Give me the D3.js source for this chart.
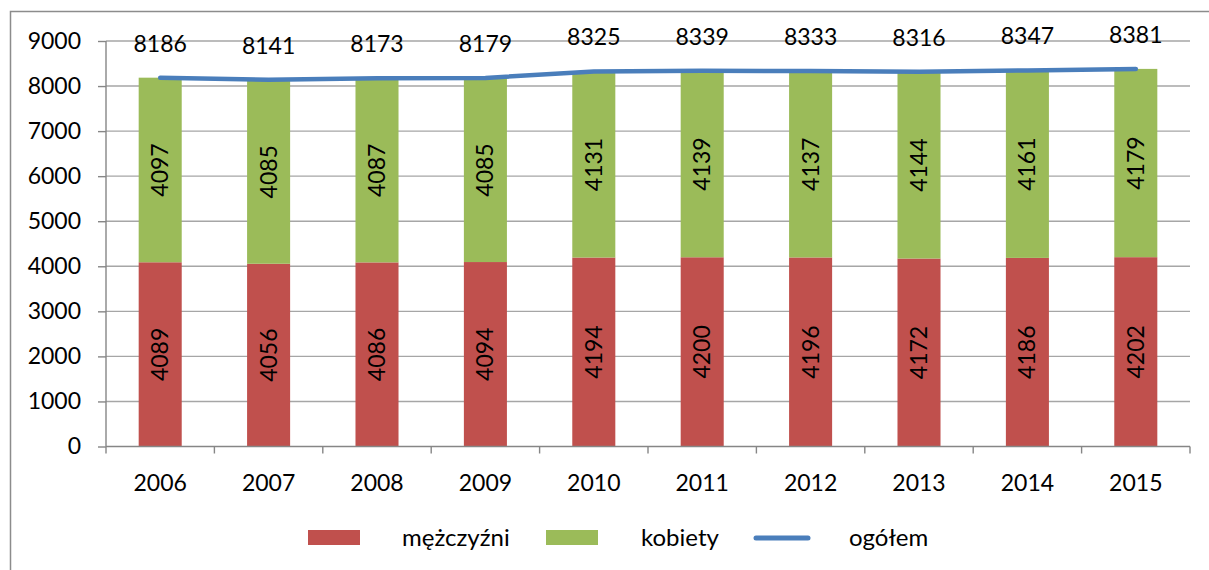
<!DOCTYPE html>
<html><head><meta charset="utf-8">
<script src="https://cdn.jsdelivr.net/npm/d3@7"></script>
<style>
html,body{margin:0;padding:0;background:#fff;}
svg{display:block;}
text{font-family:Lato,"Open Sans",sans-serif;fill:#000;}
</style></head>
<body>
<svg id="chart" width="1209" height="570"></svg>
<script>
const years = ["2006","2007","2008","2009","2010","2011","2012","2013","2014","2015"];
const men = [4089,4056,4086,4094,4194,4200,4196,4172,4186,4202];
const women = [4097,4085,4087,4085,4131,4139,4137,4144,4161,4179];
const total = [8186,8141,8173,8179,8325,8339,8333,8316,8347,8381];
const yTicks = [0,1000,2000,3000,4000,5000,6000,7000,8000,9000];
const seriesNames = ["mężczyźni","kobiety","ogółem"];

const colors = {men:"#c0504d", women:"#9bbb59", total:"#4a7ebb"};
const FS = 23;
const svg = d3.select("#chart");

// outer frame
svg.append("path").attr("d","M10.5,570 L10.5,11.5 L1209,11.5")
  .attr("fill","none").attr("stroke","#8c8c8c").attr("stroke-width",1.5);

const pLeft=106, pRight=1190, pTop=41, pBottom=446.5;
const x = d3.scaleBand().domain(years).range([pLeft,pRight]).paddingInner(0.603).paddingOuter(0.3015);
const y = d3.scaleLinear().domain([0,9000]).range([pBottom,pTop]);
const cx = d => x(d)+x.bandwidth()/2;

// gridlines
svg.append("g").selectAll("line").data(yTicks.filter(t=>t>0)).join("line")
  .attr("x1",pLeft).attr("x2",pRight).attr("y1",d=>y(d)).attr("y2",d=>y(d))
  .attr("stroke","#a6a6a6").attr("stroke-width",1.4);

// y axis
const yAxis = svg.append("g").attr("transform",`translate(${pLeft},0)`)
  .call(d3.axisLeft(y).tickValues(yTicks).tickSize(8).tickPadding(17).tickFormat(d3.format("d")));
yAxis.select(".domain").attr("stroke","#868686").attr("stroke-width",1.4).attr("d",`M0,${pTop}V${pBottom}`);
yAxis.selectAll(".tick line").attr("stroke","#868686").attr("stroke-width",1.4);
yAxis.selectAll(".tick text").attr("font-size",FS).attr("font-family","Lato").attr("fill","#000");

// bars
const g = svg.append("g");
g.selectAll("rect.m").data(years).join("rect").attr("class","m")
  .attr("x",d=>x(d)).attr("width",x.bandwidth())
  .attr("y",(d,i)=>y(men[i])).attr("height",(d,i)=>y(0)-y(men[i]))
  .attr("fill",colors.men);
g.selectAll("rect.w").data(years).join("rect").attr("class","w")
  .attr("x",d=>x(d)).attr("width",x.bandwidth())
  .attr("y",(d,i)=>y(men[i]+women[i])).attr("height",(d,i)=>y(men[i])-y(men[i]+women[i]))
  .attr("fill",colors.women);

// x axis
const xAxisG = svg.append("g").attr("transform",`translate(0,${pBottom})`);
xAxisG.append("line").attr("x1",pLeft).attr("x2",pRight).attr("stroke","#868686").attr("stroke-width",1.4);
const bounds = d3.range(years.length+1).map(i=>pLeft+i*x.step());
xAxisG.selectAll("line.t").data(bounds).join("line").attr("class","t")
  .attr("x1",d=>d).attr("x2",d=>d).attr("y1",0).attr("y2",7)
  .attr("stroke","#868686").attr("stroke-width",1.4);
xAxisG.selectAll("text").data(years).join("text")
  .attr("x",d=>cx(d)).attr("y",44).attr("text-anchor","middle").attr("font-size",FS).text(d=>d);

// bar labels (rotated)
g.selectAll("text.ml").data(years).join("text").attr("class","ml")
  .attr("transform",(d,i)=>`translate(${cx(d)},${(y(0)+y(men[i]))/2}) rotate(-90)`)
  .attr("text-anchor","middle").attr("dy","0.35em").attr("font-size",FS).text((d,i)=>men[i]);
g.selectAll("text.wl").data(years).join("text").attr("class","wl")
  .attr("transform",(d,i)=>`translate(${cx(d)},${(y(men[i])+y(men[i]+women[i]))/2}) rotate(-90)`)
  .attr("text-anchor","middle").attr("dy","0.35em").attr("font-size",FS).text((d,i)=>women[i]);

// total line
const line = d3.line().x((d,i)=>cx(years[i])).y(d=>y(d));
svg.append("path").datum(total).attr("d",line).attr("fill","none")
  .attr("stroke",colors.total).attr("stroke-width",4.5).attr("stroke-linecap","round").attr("stroke-linejoin","round");
svg.append("g").selectAll("text").data(total).join("text")
  .attr("x",(d,i)=>cx(years[i])).attr("y",d=>y(d)-26).attr("text-anchor","middle")
  .attr("font-size",FS).text(d=>d);

// legend
const lg = svg.append("g");
const LFS = 24;
lg.append("rect").attr("x",308).attr("y",530).attr("width",52).attr("height",15).attr("fill",colors.men);
lg.append("text").attr("x",402).attr("y",546).attr("font-size",LFS).text(seriesNames[0]);
lg.append("rect").attr("x",546).attr("y",530).attr("width",52).attr("height",15).attr("fill",colors.women);
lg.append("text").attr("x",641).attr("y",546).attr("font-size",LFS).text(seriesNames[1]);
lg.append("line").attr("x1",756).attr("x2",808).attr("y1",538).attr("y2",538)
  .attr("stroke",colors.total).attr("stroke-width",5).attr("stroke-linecap","round");
lg.append("text").attr("x",849).attr("y",546).attr("font-size",LFS).text(seriesNames[2]);
</script>
</body></html>
